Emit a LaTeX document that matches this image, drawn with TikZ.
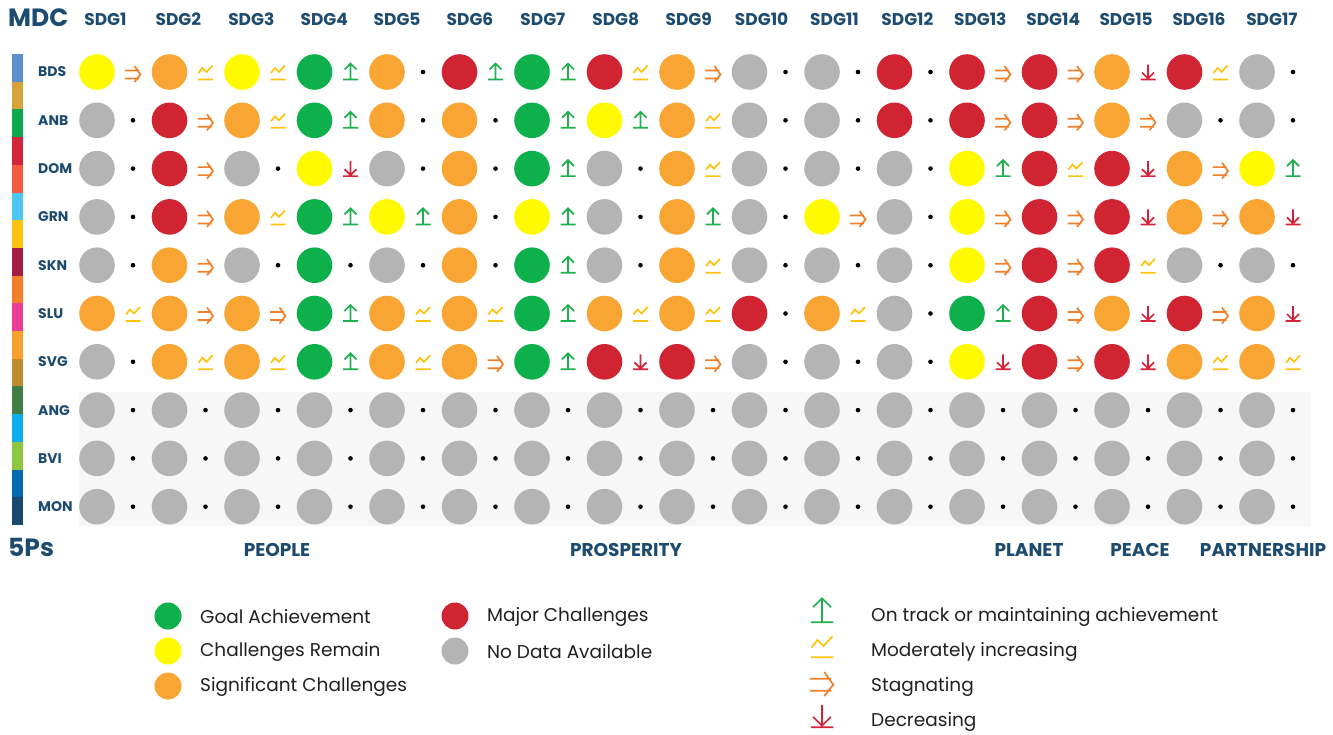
\documentclass[tikz,border=0pt]{standalone}
\usepackage{fontspec}
\setmainfont{Poppins}
\usetikzlibrary{calc}
\usetikzlibrary{positioning}

\definecolor{sdgnavy}{HTML}{1D4B6F}
\definecolor{legendtext}{HTML}{231F20}
\definecolor{bgrey}{HTML}{F7F7F7}
\definecolor{sdgG}{HTML}{0DB04B}
\definecolor{sdgY}{HTML}{FFFA00}
\definecolor{sdgO}{HTML}{F8A533}
\definecolor{sdgR}{HTML}{D12432}
\definecolor{sdgN}{HTML}{B4B4B4}
\definecolor{trendgreen}{HTML}{1FAF4E}
\definecolor{trendyellow}{HTML}{FFC20E}
\definecolor{trendorange}{HTML}{F07F2A}
\definecolor{trendred}{HTML}{D6233A}

\tikzset{
  head/.style={font=\bfseries\fontsize{17}{17}\selectfont, text=sdgnavy, inner sep=0pt},
  rowlab/.style={font=\bfseries\fontsize{14}{14}\selectfont, text=sdgnavy, inner sep=0pt, anchor=west},
  pillar/.style={font=\bfseries\fontsize{18.5}{18}\selectfont, text=sdgnavy, inner sep=0pt},
  bighead/.style={font=\bfseries\fontsize{25}{25}\selectfont, text=sdgnavy, inner sep=0pt, anchor=west},
  legtext/.style={font=\fontsize{18.5}{19}\selectfont, text=legendtext, inner sep=0pt, anchor=west},
  trendline/.style={line width=1.7pt, line cap=butt},
  trendU/.pic={\draw[trendline, trendgreen] (-7.5,7.5) -- (7.5,7.5) (0,7.5) -- (0,-8.5) (-6,-2.5) -- (0,-8.5) -- (6,-2.5);},
  trendD/.pic={\draw[trendline, trendred] (-7.5,7.5) -- (7.5,7.5) (0,-7.5) -- (0,6.5) (-6,0.5) -- (0,6.5) -- (6,0.5);},
  trendS/.pic={\draw[trendline, trendorange] (-8,-1.5) -- (6,-1.5) (-8,6.5) -- (6,6.5) (1.5,-6) -- (7.5,2.5) -- (1.5,10);},
  trendM/.pic={\draw[trendline, trendyellow] (-7.5,7.5) -- (7.5,7.5) (-7,1) -- (-3,-4) -- (1,0) -- (7,-6.5);},
  trendN/.pic={\fill[black] (0,0) circle (2.3);}
}

\begin{document}
\begin{tikzpicture}[x=1pt, y=-1pt]
  \useasboundingbox (0,0) rectangle (1333,734);

  % colour strip down the left
  \foreach \hex [count=\k] in {5B8FCF,D8A23A,10A84E,D0253A,F15A40,4CC6F2,FFC20E,A21C44,F37F2A,
                               EA3F95,F8A02E,BE8B2D,3F7E44,0DAEEF,8DC63F,066AB2,1A4970} {
    \definecolor{stripcol}{HTML}{\hex}
    \fill[stripcol] (12,{54+(\k-1)*27.7}) rectangle ++(10.5,27.7);
  }

  % pale band behind the territories
  \fill[bgrey] (79,392) rectangle (1311,526);

  \node[bighead] (mdc) at (8,18) {MDC};
  \foreach \i in {1,...,17}
    \node[head] (sdg\i) at ({105.5+(\i-1)*72.9},19) {SDG\i};

  \foreach \lab/\data [count=\j] in {
    BDS/{Y/S,O/M,Y/M,G/U,O/N,R/U,G/U,R/M,O/S,N/N,N/N,R/N,R/S,R/S,O/D,R/M,N/N},
    ANB/{N/N,R/S,O/M,G/U,O/N,O/N,G/U,Y/U,O/M,N/N,N/N,R/N,R/S,R/S,O/S,N/N,N/N},
    DOM/{N/N,R/S,N/N,Y/D,N/N,O/N,G/U,N/N,O/M,N/N,N/N,N/N,Y/U,R/M,R/D,O/S,Y/U},
    GRN/{N/N,R/S,O/M,G/U,Y/U,O/N,Y/U,N/N,O/U,N/N,Y/S,N/N,Y/S,R/S,R/D,O/S,O/D},
    SKN/{N/N,O/S,N/N,G/N,N/N,O/N,G/U,N/N,O/M,N/N,N/N,N/N,Y/S,R/S,R/M,N/N,N/N},
    SLU/{O/M,O/S,O/S,G/U,O/M,O/M,G/U,O/M,O/M,R/N,O/M,N/N,G/U,R/S,O/D,R/S,O/D},
    SVG/{N/N,O/M,O/M,G/U,O/M,O/S,G/U,R/D,R/S,N/N,N/N,N/N,Y/D,R/S,R/D,O/M,O/M},
    ANG/{N/N,N/N,N/N,N/N,N/N,N/N,N/N,N/N,N/N,N/N,N/N,N/N,N/N,N/N,N/N,N/N,N/N},
    BVI/{N/N,N/N,N/N,N/N,N/N,N/N,N/N,N/N,N/N,N/N,N/N,N/N,N/N,N/N,N/N,N/N,N/N},
    MON/{N/N,N/N,N/N,N/N,N/N,N/N,N/N,N/N,N/N,N/N,N/N,N/N,N/N,N/N,N/N,N/N,N/N}} {
    \node[rowlab] (row\j) at (38,{72+(\j-1)*48.3}) {\lab};
    \foreach \c/\t [count=\i] in \data {
      \fill[sdg\c] ({97+(\i-1)*72.5},{72+(\j-1)*48.3}) circle (17.8);
      \pic at ({133+(\i-1)*72.5},{72+(\j-1)*48.3}) {trend\t};
    }
  }

  \node[bighead] (fiveps) at (8,547) {5Ps};
  \node[pillar] (people) at (277,550) {PEOPLE};
  \node[pillar] (prosperity) at (626,550) {PROSPERITY};
  \node[pillar] (planet) at (1029,550) {PLANET};
  \node[pillar] (peace) at (1140,550) {PEACE};
  \node[pillar] (partnership) at (1263,550) {PARTNERSHIP};

  % legend
  \fill[sdgG] (168,616) circle (13.5);
  \fill[sdgY] (168,651) circle (13.5);
  \fill[sdgO] (168,686) circle (13.5);
  \fill[sdgR] (455,616) circle (13.5);
  \fill[sdgN] (455,651) circle (13.5);
  \node[legtext] (lgoal) at (200,617) {Goal Achievement};
  \node[legtext] (lremain) at (200,652) {Challenges Remain};
  \node[legtext] (lsignif) at (200,687) {Significant Challenges};
  \node[legtext] (lmajor) at (487,617) {Major Challenges};
  \node[legtext] (lnodata) at (487,652) {No Data Available};

  \pic[scale=1.5] at (822,611) {trendU};
  \pic[scale=1.5] at (822,646) {trendM};
  \pic[scale=1.5] at (822,681) {trendS};
  \pic[scale=1.5] at (822,716) {trendD};
  \node[legtext] (ltrack) at (871,617) {On track or maintaining achievement};
  \node[legtext] (lmod) at (871,652) {Moderately increasing};
  \node[legtext] (lstag) at (871,687) {Stagnating};
  \node[legtext] (ldecr) at (871,722) {Decreasing};
\end{tikzpicture}
\end{document}
